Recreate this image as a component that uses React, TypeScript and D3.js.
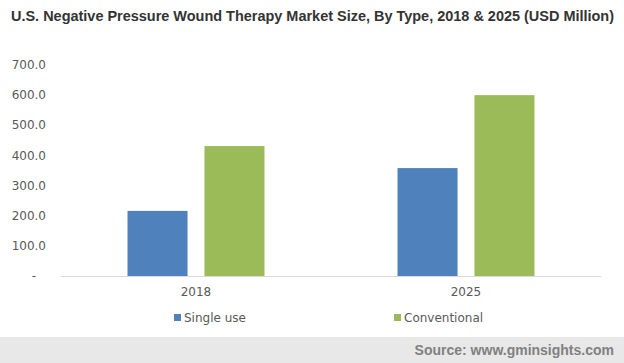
import * as d3 from "d3";

const categories = ["2018", "2025"];
const seriesNames = ["Single use", "Conventional"];
const singleUse = [216, 358];
const conventional = [431, 600];
const yTicks = [0, 100, 200, 300, 400, 500, 600, 700];

const colors = ["#4f81bd", "#9bbb59"];
const W = 624;
const H = 363;
const font = "'DejaVu Sans', Verdana, sans-serif";
const boldFont = "'Liberation Sans', Arial, sans-serif";

const App = () => {
  const x0 = d3.scaleBand().domain(categories).range([61, 601]);
  const x1 = d3.scaleBand().domain(seriesNames).range([0, 137]).paddingInner(0.22);
  const y = d3.scaleLinear().domain([0, 700]).range([276, 65]);
  const values = [singleUse, conventional];

  return (
    <svg
      width={W}
      height={H}
      style={{ position: "fixed", left: 0, top: 0, display: "block", background: "#fff" }}
    >
      <text
        x={11}
        y={21}
        fontFamily={boldFont}
        fontWeight="bold"
        fontSize={14}
        textLength={603}
        lengthAdjust="spacingAndGlyphs"
        fill="#333333"
      >
        U.S. Negative Pressure Wound Therapy Market Size, By Type, 2018 &amp; 2025 (USD Million)
      </text>

      {yTicks.map((t) => (
        <text
          key={t}
          x={t === 0 ? 36 : 46}
          y={y(t)}
          dy="0.35em"
          textAnchor="end"
          fontFamily={font}
          fontSize={12}
          fill="#595959"
        >
          {t === 0 ? "-" : d3.format(".1f")(t)}
        </text>
      ))}

      {categories.map((c, i) => {
        const gx = (x0(c) as number) + x0.bandwidth() / 2 - 68.5;
        return (
          <g key={c} transform={`translate(${gx},0)`}>
            {seriesNames.map((s, j) => (
              <rect
                key={s}
                x={x1(s)}
                y={y(values[j][i])}
                width={x1.bandwidth()}
                height={y(0) - y(values[j][i])}
                fill={colors[j]}
              />
            ))}
          </g>
        );
      })}

      <line x1={61} x2={601} y1={y(0) + 0.5} y2={y(0) + 0.5} stroke="#d9d9d9" />

      {categories.map((c) => (
        <text
          key={c}
          x={(x0(c) as number) + x0.bandwidth() / 2}
          y={296}
          textAnchor="middle"
          fontFamily={font}
          fontSize={12}
          fill="#595959"
        >
          {c}
        </text>
      ))}

      {seriesNames.map((s, j) => {
        const lx = j === 0 ? 174 : 394;
        return (
          <g key={s}>
            <rect x={lx} y={314} width={7} height={7} fill={colors[j]} />
            <text
              x={lx + 10}
              y={318}
              dy="0.35em"
              fontFamily={font}
              fontSize={12}
              fill="#595959"
            >
              {s}
            </text>
          </g>
        );
      })}

      <rect x={0} y={337} width={W} height={H - 337} fill="#e8e8e8" />
      <text
        x={614}
        y={355}
        textAnchor="end"
        fontFamily={boldFont}
        fontWeight="bold"
        fontSize={14}
        fill="#808080"
      >
        Source: www.gminsights.com
      </text>
    </svg>
  );
};

export default App;
